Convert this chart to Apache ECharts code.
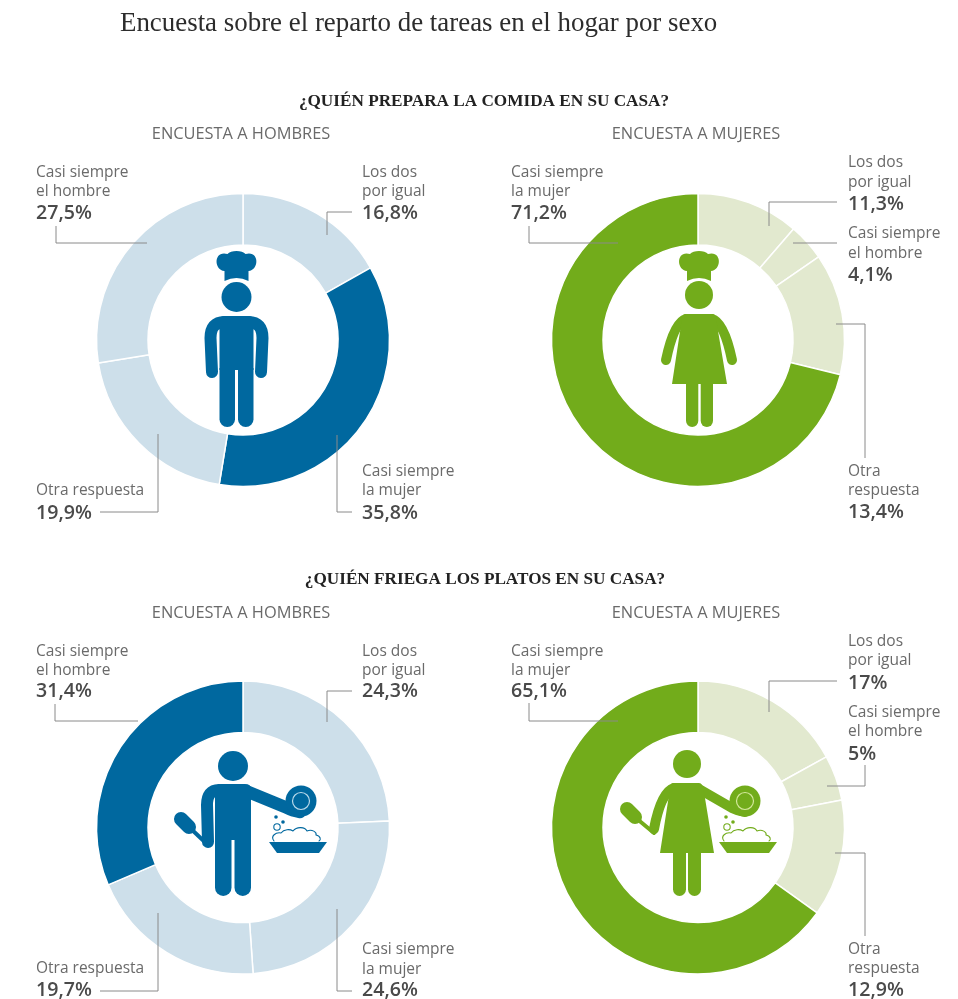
<!DOCTYPE html>
<html lang="es">
<head>
<meta charset="utf-8">
<title>Encuesta sobre el reparto de tareas en el hogar por sexo</title>
<script src="https://cdn.jsdelivr.net/npm/echarts@6/dist/echarts.min.js"></script>
<style>
  html, body { margin: 0; padding: 0; background: #fff; }
  #chart { width: 958px; height: 999px; }
</style>
</head>
<body>
<div id="chart"></div>
<script>
// Survey answers, clockwise from twelve o'clock.
const mainTitle = 'Encuesta sobre el reparto de tareas en el hogar por sexo';
const questions = ['¿QUIÉN PREPARA LA COMIDA EN SU CASA?', '¿QUIÉN FRIEGA LOS PLATOS EN SU CASA?'];
const surveys = ['ENCUESTA A HOMBRES', 'ENCUESTA A MUJERES'];
const answersMen = ['Los dos por igual', 'Casi siempre la mujer', 'Otra respuesta', 'Casi siempre el hombre'];
const answersWomen = ['Los dos por igual', 'Casi siempre el hombre', 'Otra respuesta', 'Casi siempre la mujer'];
const cookingMen = [16.8, 35.8, 19.9, 27.5];
const cookingWomen = [11.3, 4.1, 13.4, 71.2];
const dishesMen = [24.3, 24.6, 19.7, 31.4];
const dishesWomen = [17, 5, 12.9, 65.1];

const BLUE = '#00689f', BLUE_PALE = '#cddfea', GREEN = '#72ac1b', GREEN_PALE = '#e2e9cf';
const SERIF = '"Liberation Serif", serif';
const SANS = '"Open Sans", sans-serif';

// One entry per doughnut: where it sits, which slice is emphasised,
// and how each answer's caption and leader line are laid out.
const panels = [
  { values: cookingMen, answers: answersMen, cx: 243, cy: 340, strong: BLUE, pale: BLUE_PALE, hi: 1, callouts: [
    { x: 362, y: [172, 191, 212], lines: ['Los dos', 'por igual'], leader: [[352, 212], [327, 212], [327, 235]] },
    { x: 362, y: [471, 490, 512], lines: ['Casi siempre', 'la mujer'], leader: [[337, 435], [337, 512], [352, 512]] },
    { x: 36, y: [490, 512], lines: ['Otra respuesta'], leader: [[100, 512], [158, 512], [158, 434]] },
    { x: 36, y: [172, 191, 212], lines: ['Casi siempre', 'el hombre'], leader: [[56, 226], [56, 243], [147, 243]] }
  ] },
  { values: cookingWomen, answers: answersWomen, cx: 698, cy: 340, strong: GREEN, pale: GREEN_PALE, hi: 3, callouts: [
    { x: 848, y: [162, 182, 203], lines: ['Los dos', 'por igual'], leader: [[837, 202], [769, 202], [769, 226]] },
    { x: 848, y: [233, 253, 274], lines: ['Casi siempre', 'el hombre'], leader: [[837, 243], [793, 243]] },
    { x: 848, y: [471, 490, 511], lines: ['Otra', 'respuesta'], leader: [[836, 324], [865, 324], [865, 458]] },
    { x: 511, y: [172, 191, 212], lines: ['Casi siempre', 'la mujer'], leader: [[529, 226], [529, 243], [618, 243]] }
  ] },
  { values: dishesMen, answers: answersMen, cx: 243, cy: 827.5, strong: BLUE, pale: BLUE_PALE, hi: 3, callouts: [
    { x: 362, y: [651, 670, 690], lines: ['Los dos', 'por igual'], leader: [[352, 691], [327, 691], [327, 722]] },
    { x: 362, y: [949, 969, 989], lines: ['Casi siempre', 'la mujer'], leader: [[337, 909], [337, 991], [352, 991]] },
    { x: 36, y: [968, 989], lines: ['Otra respuesta'], leader: [[100, 991], [158, 991], [158, 913]] },
    { x: 36, y: [651, 670, 690], lines: ['Casi siempre', 'el hombre'], leader: [[55, 704], [55, 721], [138, 721]] }
  ] },
  { values: dishesWomen, answers: answersWomen, cx: 698, cy: 827.5, strong: GREEN, pale: GREEN_PALE, hi: 3, callouts: [
    { x: 848, y: [641, 660, 682], lines: ['Los dos', 'por igual'], leader: [[837, 681], [769, 681], [769, 712]] },
    { x: 848, y: [712, 731, 753], lines: ['Casi siempre', 'el hombre'], leader: [[865, 765], [865, 786], [827, 786]] },
    { x: 848, y: [949, 968, 989], lines: ['Otra', 'respuesta'], leader: [[835, 853], [865, 853], [865, 936]] },
    { x: 511, y: [651, 670, 690], lines: ['Casi siempre', 'la mujer'], leader: [[529, 703], [529, 721], [618, 721]] }
  ] }
];

const pct = v => String(v).replace('.', ',') + '%';

const series = panels.map(p => ({
  type: 'pie',
  silent: true,
  animation: false,
  startAngle: 90,
  clockwise: true,
  center: [p.cx, p.cy],
  radius: [95, 146.5],
  label: { show: false },
  labelLine: { show: false },
  data: p.values.map((v, i) => ({
    name: p.answers[i],
    value: v,
    itemStyle: { color: i === p.hi ? p.strong : p.pale, borderColor: '#fff', borderWidth: 1.5 }
  }))
}));

const graphics = [];
const text = (t, x, y, font, fill, align = 'left') => graphics.push({
  type: 'text', z: 10, silent: true,
  style: { text: t, x, y, font, fill, align, verticalAlign: 'middle' }
});

// Graphic elements have no free-form path type, so each outline is registered as its own shape.
let shapeCount = 0;
function pathShape(d) {
  const name = 'picto' + (shapeCount++);
  echarts.graphic.registerShape(name, echarts.graphic.extendPath(d, {}));
  return name;
}
const fillPath = (d, fill) => graphics.push({ type: pathShape(d), z: 6, silent: true, style: { fill } });
const strokePath = (d, stroke, lineWidth, z = 5) => graphics.push({
  type: pathShape(d), z, silent: true,
  style: { fill: null, stroke, lineWidth, lineCap: 'round', lineJoin: 'round' }
});
const circle = (cx, cy, r, style) => graphics.push({ type: 'circle', z: 7, silent: true, shape: { cx, cy, r }, style });

// Headings
text(mainTitle, 120, 23.5, '26.9px ' + SERIF, '#2c2c2c');
text(questions[0], 484, 101.5, 'bold 17.2px ' + SERIF, '#222', 'center');
text(questions[1], 485, 579.5, 'bold 17.2px ' + SERIF, '#222', 'center');
[[241, 134], [696, 134], [241, 613], [696, 613]].forEach((pos, i) =>
  text(surveys[i % 2], pos[0], pos[1], '16.4px ' + SANS, '#6a6a6a', 'center'));

// Captions and leader lines
panels.forEach(p => p.callouts.forEach((c, i) => {
  c.lines.forEach((line, k) => text(line, c.x, c.y[k] + 1, '15.5px ' + SANS, '#6a6a6a'));
  text(pct(p.values[i]), c.x, c.y[c.lines.length] + 1.5, '600 19.6px ' + SANS, '#4a4a4a');
  graphics.push({
    type: 'polyline', z: 8, silent: true,
    shape: { points: c.leader },
    style: { fill: null, stroke: '#8a8a8a', lineWidth: 1 }
  });
}));

// Pictograms
function chefHat(cx, c) {
  fillPath(`M${cx - 12} 281 L${cx - 12} 271 C${cx - 23} 270 ${cx - 23} 250 ${cx - 9} 254 C${cx - 6} 250 ${cx + 6} 250 ${cx + 9} 254 C${cx + 23} 250 ${cx + 23} 270 ${cx + 12} 271 L${cx + 12} 281 Q${cx} 275 ${cx - 12} 281 Z`, c);
}
function legs(l1, r1, l2, r2, top, bottom, c) {
  const rad1 = (r1 - l1) / 2, rad2 = (r2 - l2) / 2;
  fillPath(`M${l1} ${top} L${r1} ${top} L${r1} ${bottom - rad1} A${rad1} ${rad1} 0 0 1 ${l1} ${bottom - rad1} Z`, c);
  fillPath(`M${l2} ${top} L${r2} ${top} L${r2} ${bottom - rad2} A${rad2} ${rad2} 0 0 1 ${l2} ${bottom - rad2} Z`, c);
}
function washingUp(plateX, plateY, basinX, ring, c) {
  circle(plateX, plateY, 15.5, { fill: c });
  circle(plateX, plateY, 8.5, { fill: null, stroke: ring, lineWidth: 1.2 });
  const b = basinX;
  fillPath(`M${b - 29} 842 L${b + 29} 842 L${b + 21} 853 L${b - 21} 853 Z`, c);
  strokePath(`M${b - 24} 841 C${b - 28} 836 ${b - 22} 832 ${b - 17} 833 C${b - 14} 829 ${b - 8} 829 ${b - 5} 831 C${b - 1} 826 ${b + 7} 827 ${b + 9} 831 C${b + 14} 829 ${b + 19} 832 ${b + 18} 835 C${b + 23} 836 ${b + 23} 840 ${b + 21} 841`, c, 1.1, 7);
  circle(b - 22, 817, 1.8, { fill: c });
  circle(b - 15, 822, 1.8, { fill: c });
  circle(b - 21, 827, 3.2, { fill: null, stroke: c, lineWidth: 1.1 });
}

// Man with chef's hat
(function () {
  const cx = 236.5, c = BLUE;
  chefHat(cx, c);
  circle(cx, 297, 15, { fill: c });
  fillPath(`M${cx - 17} 320 Q${cx - 17} 316 ${cx - 12} 316 L${cx + 12} 316 Q${cx + 17} 316 ${cx + 17} 320 L${cx + 17} 370 L${cx - 17} 370 Z`, c);
  legs(cx - 17, cx - 1.5, cx + 1.5, cx + 17, 368, 427, c);
  strokePath(`M${cx - 12} 322 Q${cx - 26} 322 ${cx - 26} 338 L${cx - 24.5} 372`, c, 12);
  strokePath(`M${cx + 12} 322 Q${cx + 26} 322 ${cx + 26} 338 L${cx + 24.5} 372`, c, 12);
})();

// Woman with chef's hat
(function () {
  const cx = 699, c = GREEN;
  chefHat(cx, c);
  circle(cx, 295, 14, { fill: c });
  fillPath(`M${cx - 14} 314 L${cx + 14} 314 Q${cx + 18} 314 ${cx + 18} 325 L${cx + 28} 384 L${cx - 27} 384 L${cx - 18} 325 Q${cx - 18} 314 ${cx - 14} 314 Z`, c);
  legs(cx - 13, cx - 0.7, cx + 1.7, cx + 14, 383, 427, c);
  strokePath(`M${cx - 13} 319 Q${cx - 25} 322 ${cx - 33} 360`, c, 10);
  strokePath(`M${cx + 13} 319 Q${cx + 25} 322 ${cx + 33} 360`, c, 10);
})();

// Man washing up
(function () {
  const cx = 233, c = BLUE;
  circle(cx, 766, 15, { fill: c });
  fillPath(`M${cx - 18} 789 Q${cx - 18} 784 ${cx - 12} 784 L${cx + 12} 784 Q${cx + 18} 784 ${cx + 18} 789 L${cx + 18} 840 L${cx - 18} 840 Z`, c);
  legs(cx - 18, cx - 1.5, cx + 1.5, cx + 18, 838, 896, c);
  strokePath(`M${cx - 14} 790 Q${cx - 26} 790 ${cx - 26} 805 L${cx - 25} 842`, c, 12);
  strokePath('M246 791 L285 807 Q293 811 300 812', c, 12.5);
  strokePath('M208 845 L189 827', c, 4);
  strokePath('M181 819 L189 827', c, 14);
  washingUp(301, 801, 298, '#b9d9ea', c);
})();

// Woman washing up
(function () {
  const cx = 687, c = GREEN;
  circle(cx, 764, 14, { fill: c });
  fillPath(`M${cx - 14} 783 L${cx + 12} 783 Q${cx + 16} 783 ${cx + 17} 792 L${cx + 27} 853 L${cx - 27} 853 L${cx - 18} 795 Q${cx - 18} 783 ${cx - 14} 783 Z`, c);
  legs(cx - 14, cx - 1, cx + 1, cx + 14, 852, 896, c);
  strokePath(`M${cx - 13} 788 Q${cx - 26} 792 ${cx - 33} 829`, c, 10);
  strokePath('M699 789 L732 808 Q738 811 745 812', c, 10);
  strokePath('M654 833 L636 818', c, 4);
  strokePath('M627 809 L635 817', c, 14);
  washingUp(745, 801, 748, '#d4e89c', c);
})();

const chart = echarts.init(document.getElementById('chart'), null, { renderer: 'canvas' });
chart.setOption({
  animation: false,
  backgroundColor: '#fff',
  tooltip: { show: false },
  legend: { show: false },
  series,
  graphic: { elements: graphics }
});
</script>
</body>
</html>
